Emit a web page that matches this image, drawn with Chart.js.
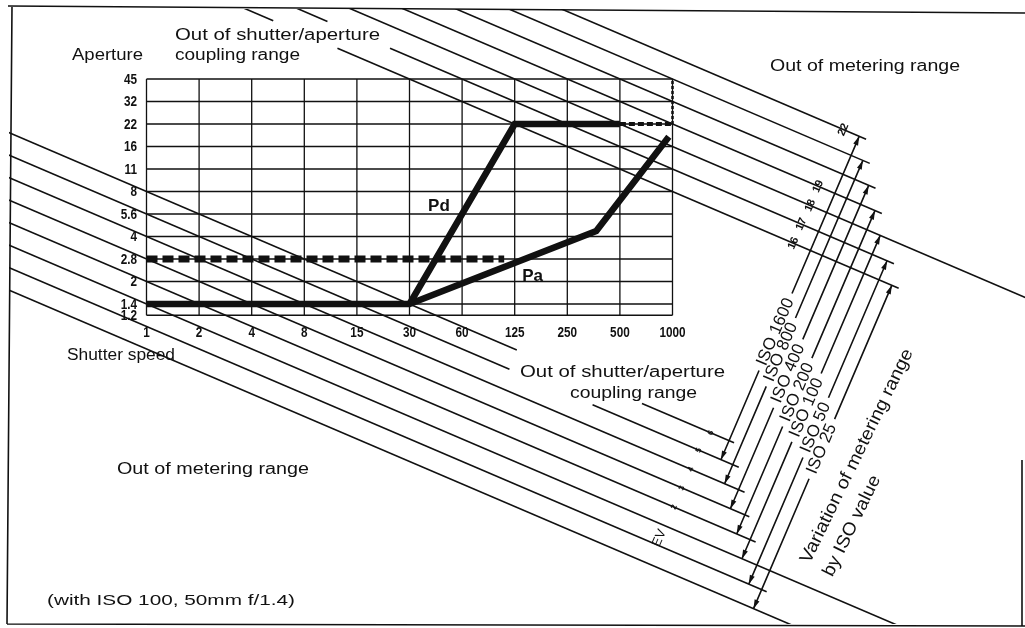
<!DOCTYPE html>
<html>
<head>
<meta charset="utf-8">
<title>Exposure program chart</title>
<script src="https://cdn.jsdelivr.net/npm/chart.js@4.4.1/dist/chart.umd.min.js"></script>
<style>
  html, body { margin: 0; padding: 0; background: #fff; }
  #wrap { width: 1025px; height: 628px; }
</style>
</head>
<body>
<div id="wrap"><canvas id="chart" width="1025" height="628"></canvas></div>
<script>
// aperture stops: f/1.4 = 1, f/2 = 2 ... f/45 = 11, f/1.2 half a stop under f/1.4
const apertureLabels = ['1.2', '1.4', '2', '2.8', '4', '5.6', '8', '11', '16', '22', '32', '45'];
const apertureStops = [0.5, 1, 2, 3, 4, 5, 6, 7, 8, 9, 10, 11];
// shutter stops: 1 s = 0 ... 1/1000 s = 10
const shutterLabels = ['1', '2', '4', '8', '15', '30', '60', '125', '250', '500', '1000'];

// program lines, [shutter stop, aperture stop]
const pdSolid = [[5, 1], [7, 9], [9, 9]];
const pdDashed = [[9, 9], [10, 9]];
const pdLimit = [[10, 9], [10, 11]];
const paSolid = [[0, 1], [5, 1], [8.55, 4.24], [9.93, 8.43]];
const paDashed = [[0, 3], [6.8, 3]];

// EV lines (EV = shutter stop + aperture stop), each runs in from the frame
const evLow = [-1, 0, 1, 2, 3, 4, 5, 6];
const evLowEnd = [16, 11.79, 16, 11.58, 11.46, 11.37, 11.26, 11.17];
const evHigh = [16, 17, 18, 19, 20, 21, 22];
const evHighEnd = [14.30, 14.21, 17, 13.98, 13.86, 13.75, 13.68];
// breaks left open for the "out of coupling range" notes
const breakEv = [16, 17, 5, 6];
const breakFrom = [2.41, 3.44, 6.90, 7.04];
const breakTo = [3.63, 4.63, 8.48, 9.42];

// numbers written on the EV lines
const tagEv = [22, 19, 18, 17, 16, 6, 5, 4, 3, 2];
const tagShutter = [13.25, 12.77, 12.62, 12.45, 12.30, 10.73, 10.50, 10.35, 10.18, 10.03];

// metering range per film speed
const isoNames = ['ISO 1600', 'ISO 800', 'ISO 400', 'ISO 200', 'ISO 100', 'ISO 50', 'ISO 25'];
const isoLowEv = [5, 4, 3, 2, 1, 0, -1];
const isoHighEv = [22, 21, 20, 19, 18, 17, 16];
const isoFoot = [10.92, 10.99, 11.10, 11.22, 11.32, 11.45, 11.54];

const INK = '#111';
const FONT = '"Liberation Sans", Arial, Helvetica, sans-serif';

// frame and grid placement
const AREA = { left: 9, top: 9, right: 1025, bottom: 624 };
const GRID_X0 = 146.5, STOP_W = 52.6;   // 1 s column, px per shutter stop
const GRID_Y1 = 304, STOP_H = 22.5;     // f/1.4 row, px per aperture stop
const X_MIN = -(GRID_X0 - AREA.left) / STOP_W;
const X_MAX = X_MIN + (AREA.right - AREA.left) / STOP_W;
const Y_MAX = 1 + (GRID_Y1 - AREA.top) / STOP_H;
const Y_MIN = Y_MAX - (AREA.bottom - AREA.top) / STOP_H;

const seg = (pts, width, dash) => ({
  data: pts.map(([x, y]) => ({ x, y })),
  borderColor: INK,
  borderWidth: width,
  borderDash: dash || [],
  borderCapStyle: 'butt',
  borderJoinStyle: 'miter',
  pointRadius: 0,
  tension: 0,
  fill: false
});

const evSeg = (ev, from, to) => seg([[from, ev - from], [to, ev - to]], 1.6);

const evLines = [];
const addEv = (ev, end) => {
  const start = Math.max(X_MIN, ev - Y_MAX) - 0.3;
  const b = breakEv.indexOf(ev);
  if (b < 0) {
    evLines.push(evSeg(ev, start, end));
  } else {
    evLines.push(evSeg(ev, start, breakFrom[b]));
    evLines.push(evSeg(ev, breakTo[b], end));
  }
};
evLow.forEach((ev, i) => addEv(ev, evLowEnd[i]));
evHigh.forEach((ev, i) => addEv(ev, evHighEnd[i]));

const datasets = [
  seg(pdSolid, 6.5),
  seg(paSolid, 6.5),
  seg(paDashed, 7, [11, 5]),
  seg(pdDashed, 4, [6, 3]),
  seg(pdLimit, 2.5, [3, 2]),
  ...evLines
];

function drawText(ctx, str, x, y, o) {
  ctx.save();
  ctx.font = (o.bold ? 'bold ' : '') + o.size + 'px ' + FONT;
  const w = ctx.measureText(str).width;
  const sx = o.width ? o.width / w : (o.sx || 1);
  ctx.translate(x, y);
  if (o.angle) ctx.rotate(o.angle);
  ctx.scale(sx, 1);
  ctx.fillStyle = INK;
  ctx.textAlign = o.align || 'left';
  ctx.textBaseline = o.baseline || 'alphabetic';
  ctx.fillText(str, 0, 0);
  ctx.restore();
  return w * sx;
}

function arrowHead(ctx, x, y, dx, dy) {
  const l = 9, h = 2.6;
  ctx.beginPath();
  ctx.moveTo(x, y);
  ctx.lineTo(x - dx * l - dy * h, y - dy * l + dx * h);
  ctx.lineTo(x - dx * l + dy * h, y - dy * l - dx * h);
  ctx.closePath();
  ctx.fill();
}

const isoLabelAt = [0.395, 0.407, 0.418, 0.438, 0.467, 0.484, 0.494];

const diagram = {
  id: 'diagram',
  beforeDatasetsDraw(chart) {
    const { ctx } = chart;
    const xs = chart.scales.x, ys = chart.scales.y;
    ctx.save();
    ctx.strokeStyle = INK;
    ctx.lineWidth = 1.3;
    ctx.beginPath();
    apertureStops.forEach(a => {
      const y = ys.getPixelForValue(a);
      ctx.moveTo(xs.getPixelForValue(0), y);
      ctx.lineTo(xs.getPixelForValue(shutterLabels.length - 1), y);
    });
    shutterLabels.forEach((_, i) => {
      const x = xs.getPixelForValue(i);
      ctx.moveTo(x, ys.getPixelForValue(apertureStops[0]));
      ctx.lineTo(x, ys.getPixelForValue(apertureStops[apertureStops.length - 1]));
    });
    ctx.stroke();
    ctx.restore();
  },
  afterDatasetsDraw(chart) {
    const { ctx } = chart;
    const xs = chart.scales.x, ys = chart.scales.y;
    const px = (t) => xs.getPixelForValue(t);
    const py = (a) => ys.getPixelForValue(a);
    ctx.save();

    // axis tick labels
    apertureLabels.forEach((s, i) => {
      drawText(ctx, s, 137, py(apertureStops[i]) + 1, { size: 14, bold: true, align: 'right', baseline: 'middle', sx: 0.84 });
    });
    shutterLabels.forEach((s, i) => {
      drawText(ctx, s, px(i), py(apertureStops[0]) + 18, { size: 14, bold: true, align: 'center', baseline: 'middle', sx: 0.84 });
    });

    // notes
    drawText(ctx, 'Aperture', 72, 60, { size: 16, width: 71 });
    drawText(ctx, 'Out of shutter/aperture', 175, 40, { size: 16, width: 205 });
    drawText(ctx, 'coupling range', 175, 60, { size: 16, width: 125 });
    drawText(ctx, 'Out of metering range', 770, 71, { size: 16, width: 190 });
    drawText(ctx, 'Shutter speed', 67, 360, { size: 16, width: 108 });
    drawText(ctx, 'Out of shutter/aperture', 520, 377, { size: 16, width: 205 });
    drawText(ctx, 'coupling range', 570, 398, { size: 16, width: 127 });
    drawText(ctx, 'Out of metering range', 117, 474, { size: 16, width: 192 });
    drawText(ctx, '(with ISO 100, 50mm f/1.4)', 47, 605, { size: 15, width: 248 });
    drawText(ctx, 'Pd', px(5.56), py(5.35), { size: 17, bold: true, align: 'center', baseline: 'middle' });
    drawText(ctx, 'Pa', px(7.34), py(2.23), { size: 17, bold: true, align: 'center', baseline: 'middle' });

    // direction across the EV lines, pointing up-right
    const ppx = px(1) - px(0), ppy = py(0) - py(1);
    const len = Math.hypot(ppx, ppy);
    const nx = ppy / len, ny = -ppx / len;
    const evPerPx = nx / ppx - ny / ppy;
    const angle = Math.atan2(ny, nx);

    tagEv.forEach((ev, i) => {
      const t = tagShutter[i];
      const size = ev > 10 ? 11 : 8;
      drawText(ctx, String(ev), px(t), py(ev - t), { size, bold: true, align: 'center', baseline: 'middle', angle });
    });
    drawText(ctx, 'EV', px(9.75), py(-9.4), { size: 13, align: 'center', baseline: 'middle', angle });

    // film speed dimension arrows
    ctx.strokeStyle = INK;
    ctx.fillStyle = INK;
    ctx.lineWidth = 1.6;
    isoNames.forEach((name, i) => {
      const t = isoFoot[i];
      const x0 = px(t), y0 = py(isoLowEv[i] - t);
      const L = (isoHighEv[i] - isoLowEv[i]) / evPerPx;
      const m = L * isoLabelAt[i];
      ctx.font = '17px ' + FONT;
      const half = ctx.measureText(name).width / 2 + 6;
      ctx.beginPath();
      ctx.moveTo(x0, y0);
      ctx.lineTo(x0 + nx * (m - half), y0 + ny * (m - half));
      ctx.moveTo(x0 + nx * (m + half), y0 + ny * (m + half));
      ctx.lineTo(x0 + nx * L, y0 + ny * L);
      ctx.stroke();
      arrowHead(ctx, x0, y0, -nx, -ny);
      arrowHead(ctx, x0 + nx * L, y0 + ny * L, nx, ny);
      drawText(ctx, name, x0 + nx * m, y0 + ny * m, { size: 17, align: 'center', baseline: 'middle', angle });
    });

    const va = -64 * Math.PI / 180;
    drawText(ctx, 'Variation of metering range', 857, 456, { size: 18, width: 236, align: 'center', baseline: 'middle', angle: va });
    drawText(ctx, 'by ISO value', 852, 526, { size: 18, width: 110, align: 'center', baseline: 'middle', angle: va });

    // frame
    ctx.lineWidth = 1.6;
    ctx.beginPath();
    ctx.moveTo(8, 6); ctx.lineTo(1025, 13);
    ctx.moveTo(12, 6); ctx.lineTo(7, 624);
    ctx.moveTo(7, 624); ctx.lineTo(1025, 626);
    ctx.moveTo(1022, 460); ctx.lineTo(1022, 626);
    ctx.stroke();
    ctx.restore();
  }
};

new Chart(document.getElementById('chart'), {
  type: 'line',
  data: { datasets },
  options: {
    responsive: false,
    animation: false,
    devicePixelRatio: 1,
    layout: { padding: { left: AREA.left, top: AREA.top, right: 1025 - AREA.right, bottom: 628 - AREA.bottom } },
    plugins: { legend: { display: false }, tooltip: { enabled: false } },
    scales: {
      x: { type: 'linear', min: X_MIN, max: X_MAX, display: false },
      y: { type: 'linear', min: Y_MIN, max: Y_MAX, display: false }
    }
  },
  plugins: [diagram]
});
</script>
</body>
</html>
